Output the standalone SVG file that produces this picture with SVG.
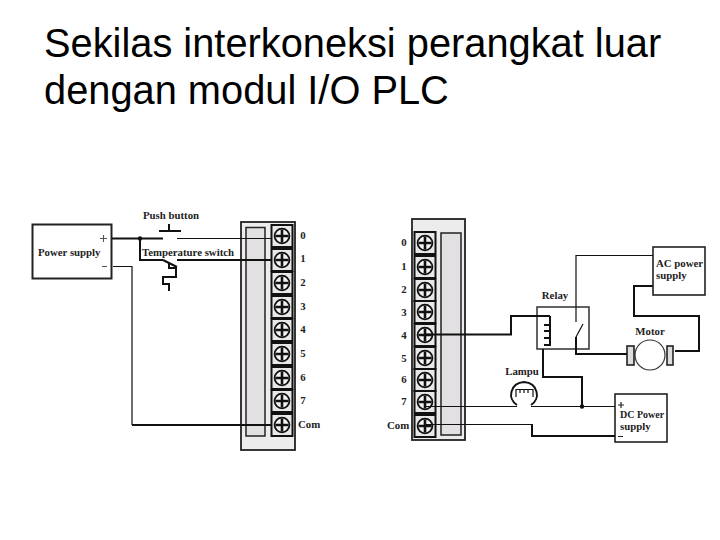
<svg xmlns="http://www.w3.org/2000/svg" xmlns:xlink="http://www.w3.org/1999/xlink" width="720" height="540" viewBox="0 0 720 540">
<style>
.t{font-family:"Liberation Sans",Arial,sans-serif;font-size:39.800px;fill:#000}
.l{font-family:"Liberation Serif","Times New Roman",serif;font-size:10.800px;font-weight:bold;fill:#222}
.c{text-anchor:middle}
.w{fill:none;stroke:#111;stroke-width:1.2}
.b{fill:none;stroke:#111;stroke-width:2}
.box{fill:#fff;stroke:#222;stroke-width:1.600}
.body{fill:#ececec;stroke:#222;stroke-width:1.800}
.g{fill:#e2e0e2;stroke:#222;stroke-width:1.500}
</style>
<defs>
<g id="term">
<rect x="-10.500" y="-11" width="21" height="22" fill="#e8e8e8" stroke="#111" stroke-width="2"/>
<circle r="7.400" fill="#f4f4f4" stroke="#111" stroke-width="1.800"/>
<path d="M-6.500 0H6.500M0-6.500V6.500" stroke="#111" stroke-width="2.600" fill="none"/>
</g>
</defs>
<text class="t" x="44" y="57">Sekilas interkoneksi perangkat luar</text>
<text class="t" x="44" y="103.500">dengan modul I/O PLC</text>

<g id="input-module">
<rect class="body" x="241" y="222" width="54" height="228"/>
<rect class="g" x="246" y="227.500" width="19" height="208.500"/>
<use xlink:href="#term" href="#term" x="282" y="236"/>
<use xlink:href="#term" href="#term" x="282" y="260"/>
<use xlink:href="#term" href="#term" x="282" y="283"/>
<use xlink:href="#term" href="#term" x="282" y="307"/>
<use xlink:href="#term" href="#term" x="282" y="330"/>
<use xlink:href="#term" href="#term" x="282" y="354"/>
<use xlink:href="#term" href="#term" x="282" y="378"/>
<use xlink:href="#term" href="#term" x="282" y="401"/>
<use xlink:href="#term" href="#term" x="282" y="425"/>
<text class="l c" x="303" y="239">0</text>
<text class="l c" x="303" y="262">1</text>
<text class="l c" x="303" y="286">2</text>
<text class="l c" x="303" y="310">3</text>
<text class="l c" x="303" y="333">4</text>
<text class="l c" x="303" y="357">5</text>
<text class="l c" x="303" y="381">6</text>
<text class="l c" x="303" y="404">7</text>
<text class="l" x="298" y="428">Com</text>
</g>

<g id="output-module">
<rect class="body" x="412" y="219" width="53" height="221"/>
<rect class="g" x="441" y="233" width="20" height="202"/>
<use xlink:href="#term" href="#term" x="425" y="243"/>
<use xlink:href="#term" href="#term" x="425" y="267"/>
<use xlink:href="#term" href="#term" x="425" y="290"/>
<use xlink:href="#term" href="#term" x="425" y="312"/>
<use xlink:href="#term" href="#term" x="425" y="335"/>
<use xlink:href="#term" href="#term" x="425" y="358"/>
<use xlink:href="#term" href="#term" x="425" y="380"/>
<use xlink:href="#term" href="#term" x="425" y="402"/>
<use xlink:href="#term" href="#term" x="425" y="426"/>
<text class="l c" x="404" y="246">0</text>
<text class="l c" x="404" y="270">1</text>
<text class="l c" x="404" y="293">2</text>
<text class="l c" x="404" y="316">3</text>
<text class="l c" x="404" y="339">4</text>
<text class="l c" x="404" y="362">5</text>
<text class="l c" x="404" y="383">6</text>
<text class="l c" x="404" y="405">7</text>
<text class="l" x="387" y="429">Com</text>
</g>

<g id="power-supply">
<rect class="box" x="32.500" y="224.500" width="79" height="54" style="stroke-width:2"/>
<path d="M100 238.500H107M103.500 235V242M102 266.500H107" stroke="#555" stroke-width="1.100" fill="none"/>
<text class="l" x="38" y="256">Power supply</text>
</g>

<g id="push-button">
<text class="l c" x="171" y="219">Push button</text>
<path class="b" d="M159 231H181M169 224V231"/>
</g>

<g id="temperature-switch">
<text class="l" x="142" y="256">Temperature switch</text>
<path class="b" d="M163 260L177 267M169 263V268H176V277H163V284H169V291"/>
</g>

<g id="relay">
<text class="l c" x="555" y="299">Relay</text>
<rect class="box" x="537" y="307" width="52" height="42" style="fill:none;stroke-width:1.400"/>
<path class="b" d="M550 316V345H544M544 325H550M544 331H550M544 338H550"/>
<path class="w" d="M576 337L583 324"/>
</g>

<g id="ac-power-supply">
<rect class="box" x="653" y="247" width="52" height="48"/>
<text class="l" x="656" y="267">AC power</text>
<text class="l" x="656" y="279">supply</text>
</g>

<g id="motor">
<text class="l c" x="650" y="335">Motor</text>
<circle cx="650" cy="355" r="15" fill="#fff" stroke="#333" stroke-width="1.200"/>
<rect class="box" x="627" y="346" width="7" height="19" style="fill:#ddd"/>
<rect class="box" x="667" y="346" width="6" height="19" style="fill:#ddd"/>
</g>

<g id="lampu">
<text class="l c" x="522" y="375">Lampu</text>
<path class="b" d="M517 405C507 399 510 383 524 382C538 383 541 399 531 405"/>
<path class="w" d="M516 397V389.500H533V397M520 389.500V393M524 389.500V393M528 389.500V393"/>
</g>

<g id="dc-power-supply">
<rect class="box" x="615" y="394" width="52" height="48"/>
<path d="M618 405H624M621 402V408M618 436.500H623" stroke="#222" stroke-width="1.200" fill="none"/>
<text class="l" x="620" y="418" style="font-size:10px">DC Power</text>
<text class="l" x="620" y="430">supply</text>
</g>

<g id="connectors">
<path class="b" d="M112 238.500H163"/>
<path class="w" d="M177 238.500H272"/>
<path class="b" d="M140 238.500V260H163"/>
<path class="b" d="M177 260H272"/>
<path class="w" d="M113 266.500H132V425"/>
<path class="b" d="M132 425H272"/>
<circle cx="140" cy="238.500" r="2.200" fill="#111"/>
<path class="b" d="M425 334.500H511V316H550"/>
<path class="w" d="M576 322V255.500H653"/>
<path class="b" d="M576 337V354H627"/>
<path class="b" d="M653 286H634V316H699V351H675"/>
<path class="b" d="M543 349V377H582V406.500"/>
<path class="w" d="M425 406.500H517M531 406.500H615"/>
<path class="w" d="M425 424.500H532"/>
<path class="b" d="M532 424V436H615"/>
<circle cx="582" cy="406.500" r="2.200" fill="#111"/>
</g>
</svg>
